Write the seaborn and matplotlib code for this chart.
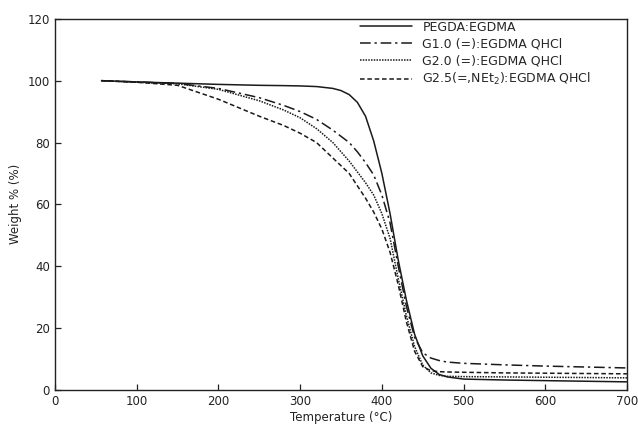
import matplotlib
matplotlib.use("Agg")
import matplotlib.pyplot as plt
import seaborn as sns
import pandas as pd


TEMPERATURE = [57, 100, 150, 200, 250, 280, 300, 320, 340, 350, 360, 370, 380,
               390, 400, 410, 420, 430, 440, 450, 460, 470, 480, 500, 550, 600,
               650, 700]

PEGDA = [100, 99.6, 99.2, 98.8, 98.5, 98.4, 98.3, 98.1, 97.5, 96.8, 95.5, 93.0,
         88.5, 80.5, 70.0, 57.0, 42.0, 29.0, 18.0, 11.0, 7.0, 5.0, 4.2, 3.5,
         3.2, 3.0, 2.8, 2.6]
G10 = [100, 99.6, 99.1, 97.5, 94.5, 92.0, 90.0, 87.5, 84.0, 82.0, 80.0, 77.0,
       73.5, 69.5, 63.0, 54.0, 40.0, 27.0, 17.0, 12.0, 10.3, 9.5, 9.0, 8.6,
       8.1, 7.7, 7.4, 7.1]
G20 = [100, 99.5, 99.0, 97.2, 93.5, 90.5, 88.0, 84.5, 80.0, 77.0, 74.0, 70.5,
       67.0, 63.0, 57.0, 49.0, 36.0, 24.0, 14.0, 8.0, 5.5, 4.7, 4.4, 4.3,
       4.2, 4.1, 4.0, 3.9]
G25 = [100, 99.5, 98.5, 94.0, 88.5, 85.5, 83.0, 80.0, 75.0, 72.5, 70.0, 66.0,
       62.0, 57.5, 52.0, 44.5, 34.0, 22.0, 12.5, 7.5, 6.2, 5.9, 5.8, 5.7,
       5.5, 5.4, 5.3, 5.2]

LABELS = [
    "PEGDA:EGDMA",
    "G1.0 (=):EGDMA QHCl",
    "G2.0 (=):EGDMA QHCl",
    "G2.5(=,NEt$_2$):EGDMA QHCl",
]
STYLES = ["-", (0, (7, 2.5, 1.5, 2.5)), (0, (1, 0.8)), (0, (3, 1.8))]

sns.set_style("ticks")
plt.rcParams["font.family"] = ["DejaVu Sans"]

fig = plt.figure(figsize=(6.38, 4.28), dpi=100)
ax = fig.add_axes([0.086, 0.089, 0.897, 0.867])

for values, label, style in zip([PEGDA, G10, G20, G25], LABELS, STYLES):
    df = pd.DataFrame({"T": TEMPERATURE, "W": values})
    sns.lineplot(data=df, x="T", y="W", ax=ax, color="#1a1a1a", linewidth=1.1,
                 linestyle=style, label=label)

ax.set_xlim(0, 700)
ax.set_ylim(0, 120)
ax.set_xticks(range(0, 701, 100))
ax.set_yticks(range(0, 121, 20))
ax.tick_params(direction="in", length=4, width=0.9, labelsize=8.5, colors="#222222")
for side in ax.spines.values():
    side.set_linewidth(1.0)
    side.set_color("#222222")

ax.set_xlabel("Temperature (°C)", fontsize=8.5, color="#222222", labelpad=2)
ax.set_ylabel("Weight % (%)", fontsize=8.5, color="#222222")

ax.legend(loc="upper left", bbox_to_anchor=(0.533, 0.995), frameon=False,
          borderaxespad=0, borderpad=0, fontsize=9, handlelength=4.2,
          handletextpad=0.8, labelspacing=0.3)

fig.savefig("out.png", dpi=100)
